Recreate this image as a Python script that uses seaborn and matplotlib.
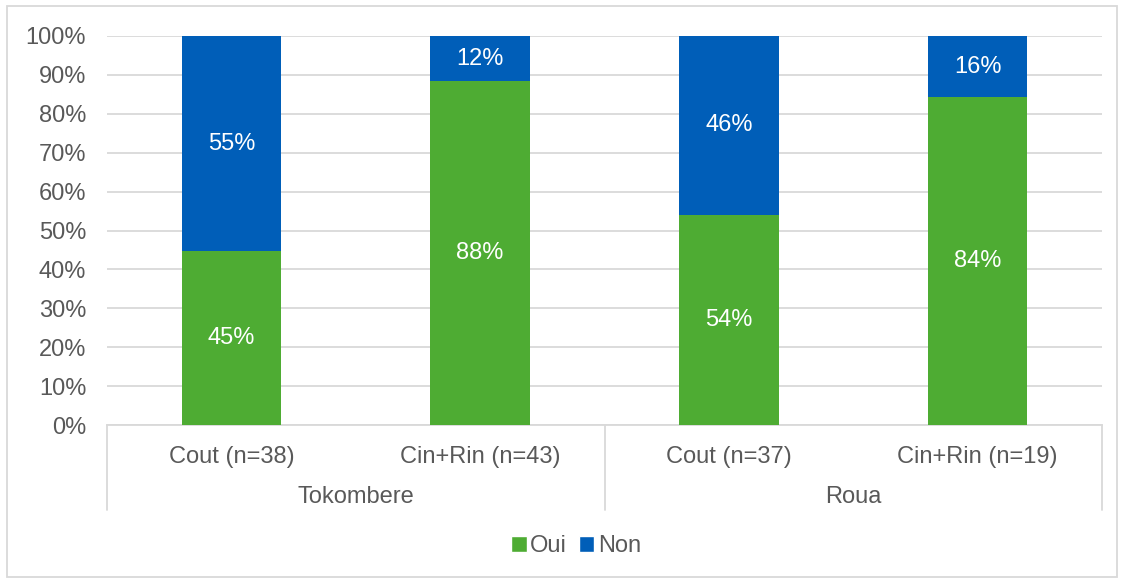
import matplotlib
matplotlib.use("Agg")
import matplotlib.pyplot as plt
import seaborn as sns
import pandas as pd
from matplotlib.patches import Rectangle, Patch
import matplotlib.transforms as mtransforms

categories = ["Cout (n=38)", "Cin+Rin (n=43)", "Cout (n=37)", "Cin+Rin (n=19)"]
groups = ["Tokombere", "Roua"]
oui = [44.7, 88.4, 54.1, 84.2]
non = [55.3, 11.6, 45.9, 15.8]
oui_labels = ["45%", "88%", "54%", "84%"]
non_labels = ["55%", "12%", "46%", "16%"]
yticks = [0, 10, 20, 30, 40, 50, 60, 70, 80, 90, 100]

GREEN = "#4EAC33"
BLUE = "#005EB8"
GRID = "#D9D9D9"
TXT = "#595959"
FS = 17

sns.set_theme(style="white")
plt.rcParams["font.family"] = ["Liberation Sans", "DejaVu Sans"]

df = pd.DataFrame({"cat": [f"{i}" for i in range(len(categories))],
                   "oui": oui, "non": non})
df["total"] = df["oui"] + df["non"]

fig = plt.figure(figsize=(11.23, 5.79), dpi=100)
W, H = 1123, 579
ax = fig.add_axes([107 / W, 1 - 425 / H, (1102 - 107) / W, (425 - 36) / H])

sns.barplot(data=df, x="cat", y="total", color=BLUE, width=0.4, ax=ax,
            saturation=1, zorder=3, linewidth=0)
sns.barplot(data=df, x="cat", y="oui", color=GREEN, width=0.4, ax=ax,
            saturation=1, zorder=3, linewidth=0)

ax.set_xlim(-0.5, len(categories) - 0.5)
ax.set_ylim(0, 100)
ax.set_yticks(yticks)
ax.set_yticklabels([f"{v}%" for v in yticks], color=TXT, fontsize=FS)
ax.set_xticks(range(len(categories)))
ax.set_xticklabels(categories, color=TXT, fontsize=FS)
ax.tick_params(axis="both", length=0)
ax.tick_params(axis="y", pad=15)
ax.tick_params(axis="x", pad=15)
ax.set_xlabel("")
ax.set_ylabel("")
ax.yaxis.grid(True, color=GRID, linewidth=1.3, zorder=0)
ax.set_axisbelow(True)
for s in ["top", "right", "left"]:
    ax.spines[s].set_visible(False)
ax.spines["bottom"].set_color(GRID)
ax.spines["bottom"].set_linewidth(1.3)

for i in range(len(categories)):
    ax.text(i, oui[i] / 2, oui_labels[i], ha="center", va="center",
            color="white", fontsize=FS, zorder=5)
    ax.text(i, oui[i] + non[i] / 2, non_labels[i], ha="center", va="center",
            color="white", fontsize=FS, zorder=5)

trans = mtransforms.blended_transform_factory(ax.transData, ax.transAxes)
sep_bottom = -(510 - 425) / (425 - 36)
for xs in [-0.5, 1.5, 3.5]:
    ax.plot([xs, xs], [0, sep_bottom], transform=trans, color=GRID,
            linewidth=1.3, clip_on=False)
grp_y = -(497 - 425) / (425 - 36)
for gi, g in enumerate(groups):
    ax.text(gi * 2 + 0.5, grp_y, g, transform=trans, ha="center", va="center",
            color=TXT, fontsize=FS)

handles = [Patch(facecolor=GREEN, label="Oui"), Patch(facecolor=BLUE, label="Non")]
fig.legend(handles=handles, loc="center", bbox_to_anchor=(576 / W, 1 - 546 / H),
           ncol=2, frameon=False, fontsize=FS, labelcolor=TXT,
           handlelength=0.65, handleheight=0.65, handletextpad=0.15, columnspacing=0.5)

fig.patches.append(Rectangle((7 / W, 1 - 577 / H), (1117 - 7) / W, (577 - 6) / H,
                             transform=fig.transFigure, fill=False,
                             edgecolor=GRID, linewidth=1.3))

fig.savefig("out.png", dpi=100)
